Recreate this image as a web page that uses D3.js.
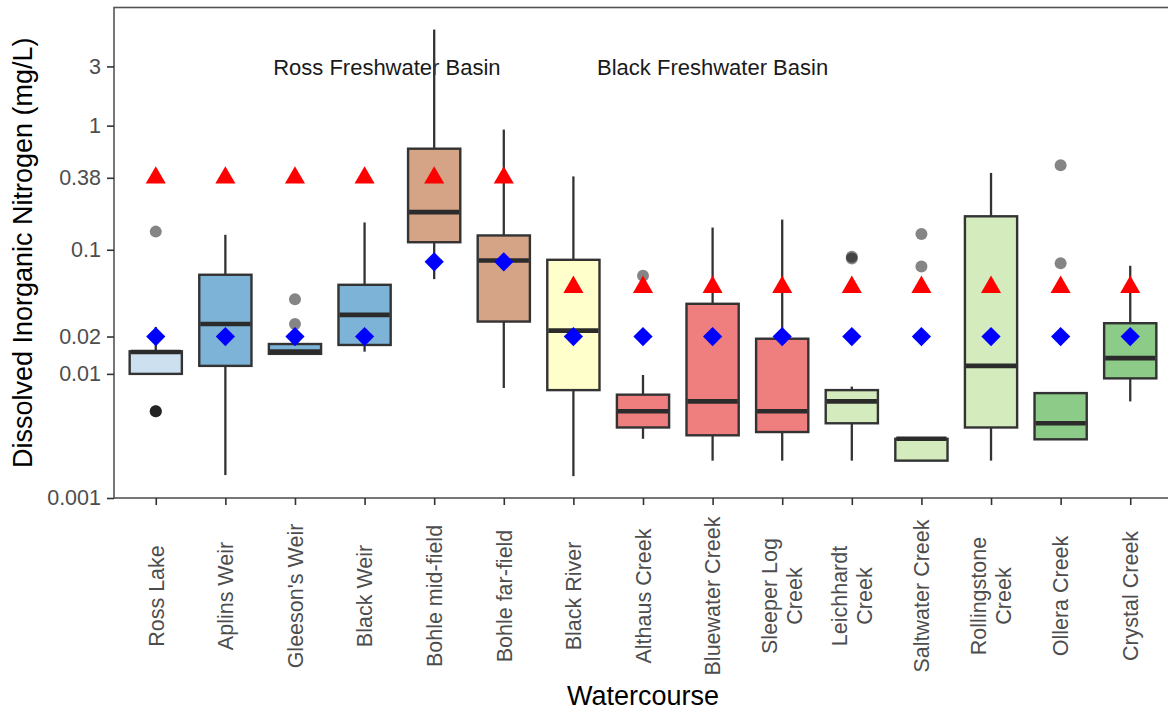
<!DOCTYPE html>
<html>
<head>
<meta charset="utf-8">
<script src="https://cdn.jsdelivr.net/npm/d3@7"></script>
<style>
  html, body { margin: 0; padding: 0; background: #ffffff; }
  svg { display: block; }
  text { font-family: "Liberation Sans", Arial, Helvetica, sans-serif; }
</style>
</head>
<body>
<svg id="chart" width="1168" height="711"></svg>
<script>
// Watercourses (two-line names use \n)
const categories = [
  "Ross Lake", "Aplins Weir", "Gleeson's Weir", "Black Weir", "Bohle mid-field",
  "Bohle far-field", "Black River", "Althaus Creek", "Bluewater Creek", "Sleeper Log\nCreek",
  "Leichhardt\nCreek", "Saltwater Creek", "Rollingstone\nCreek", "Ollera Creek", "Crystal Creek"
];

// Box statistics (mg/L)
const whiskerLow  = [0.0100, 0.00153, 0.0145, 0.0151, 0.058, 0.0077, 0.0015, 0.0030, 0.0020, 0.0020, 0.0020, 0.0020, 0.0020, 0.00297, 0.0060];
const q1Values    = [0.0100, 0.0116, 0.0145, 0.0171, 0.115, 0.0264, 0.0074, 0.0037, 0.0032, 0.0034, 0.0040, 0.0020, 0.0037, 0.00297, 0.0092];
const medianValues= [0.0150, 0.0252, 0.0151, 0.0299, 0.201, 0.0820, 0.0223, 0.0050, 0.0060, 0.0050, 0.0060, 0.0030, 0.0116, 0.0040, 0.0134];
const q3Values    = [0.0152, 0.0629, 0.0174, 0.0522, 0.652, 0.1304, 0.0830, 0.0068, 0.0367, 0.0192, 0.0074, 0.0030, 0.186, 0.0070, 0.0256];
const whiskerHigh = [0.0239, 0.132, 0.0174, 0.166, 5.94, 0.929, 0.390, 0.0098, 0.151, 0.175, 0.0079, 0.0030, 0.416, 0.0070, 0.0743];
const outliers = [
  [0.14, 0.005, 0.005, 0.005], [], [0.040, 0.0252], [], [],
  [], [], [0.0617], [], [],
  [0.088, 0.085], [0.134, 0.0733], [], [0.479, 0.078], []
];

// Guideline values drawn as triangles and diamonds (mg/L)
const triangleValues = [0.38, 0.38, 0.38, 0.38, 0.38, 0.38, 0.05, 0.05, 0.05, 0.05, 0.05, 0.05, 0.05, 0.05, 0.05];
const diamondValues  = [0.02, 0.02, 0.02, 0.02, 0.08, 0.08, 0.02, 0.02, 0.02, 0.02, 0.02, 0.02, 0.02, 0.02, 0.02];

// Box fills
const boxFills = [
  "#cce0f0", "#7eb3d8", "#7eb3d8", "#7eb3d8", "#d5a386",
  "#d5a386", "#ffffcc", "#ef7f7f", "#ef7f7f", "#ef7f7f",
  "#d4ecbd", "#d4ecbd", "#d4ecbd", "#8ccb88", "#8ccb88"
];

// Axis ticks
const yTickValues = [0.001, 0.01, 0.02, 0.1, 0.38, 1, 3];
const yTickLabels = ["0.001", "0.01", "0.02", "0.1", "0.38", "1", "3"];

// Basin annotations
const basinLabels = ["Ross Freshwater Basin", "Black Freshwater Basin"];
const basinAnchors = [3.32, 8.0];   // category-index positions of label centres
const basinLevel = 2.58;             // y value at the label baseline

const svg = d3.select("#chart");
const panel = { left: 114, right: 1172, top: 7.5, bottom: 498 };

const x = d3.scalePoint().domain(categories).range([panel.left, panel.right]).padding(0.6);
const step = x.step();
const boxW = step * 0.75;
const y = d3.scaleLog().domain([0.001, 8.95]).range([panel.bottom, panel.top]);

const xIdx = d3.scaleLinear().domain([0, categories.length - 1]).range([x(categories[0]), x(categories[categories.length - 1])]);

const data = categories.map((c, i) => ({
  name: c, lo: whiskerLow[i], q1: q1Values[i], med: medianValues[i], q3: q3Values[i], hi: whiskerHigh[i],
  out: outliers[i], tri: triangleValues[i], dia: diamondValues[i], fill: boxFills[i]
}));

// Annotations (behind the boxes)
svg.append("g").selectAll("text").data(basinLabels).join("text")
  .attr("x", (d, i) => xIdx(basinAnchors[i]))
  .attr("y", y(basinLevel))
  .attr("text-anchor", "middle")
  .attr("font-size", 22)
  .attr("fill", "#1a1a1a")
  .text(d => d);

// Boxplots
const g = svg.append("g").selectAll("g").data(data).join("g")
  .attr("transform", d => `translate(${x(d.name)},0)`);

g.append("line").attr("x1", 0).attr("x2", 0)
  .attr("y1", d => y(d.hi)).attr("y2", d => y(d.q3))
  .attr("stroke", "#333").attr("stroke-width", 2.3);
g.append("line").attr("x1", 0).attr("x2", 0)
  .attr("y1", d => y(d.q1)).attr("y2", d => y(d.lo))
  .attr("stroke", "#333").attr("stroke-width", 2.3);
g.append("rect")
  .attr("x", -boxW / 2).attr("width", boxW)
  .attr("y", d => y(d.q3)).attr("height", d => Math.max(0, y(d.q1) - y(d.q3)))
  .attr("fill", d => d.fill).attr("stroke", "#333").attr("stroke-width", 2.4);
g.append("line")
  .attr("x1", -boxW / 2 + 1).attr("x2", boxW / 2 - 1)
  .attr("y1", d => y(d.med)).attr("y2", d => y(d.med))
  .attr("stroke", "#2b2b2b").attr("stroke-width", 4.6);
g.selectAll("circle").data(d => d.out).join("circle")
  .attr("cx", 0).attr("cy", v => y(v)).attr("r", 6)
  .attr("fill", "#000").attr("fill-opacity", 0.48);

// Guideline markers
const tri = d3.symbol().type(d3.symbolTriangle).size(175);
svg.append("g").selectAll("path").data(data).join("path")
  .attr("d", tri)
  .attr("transform", d => `translate(${x(d.name)},${y(d.tri)})`)
  .attr("fill", "#ff0000");
const dia = d3.symbol().type(d3.symbolSquare).size(185);
svg.append("g").selectAll("path").data(data).join("path")
  .attr("d", dia)
  .attr("transform", d => `translate(${x(d.name)},${y(d.dia)}) rotate(45)`)
  .attr("fill", "#0000ff");

// Panel border (top/left/bottom visible)
svg.append("rect")
  .attr("x", panel.left).attr("y", panel.top)
  .attr("width", panel.right - panel.left).attr("height", panel.bottom - panel.top)
  .attr("fill", "none").attr("stroke", "#555").attr("stroke-width", 1.6);

// Y axis
const yAxis = d3.axisLeft(y).tickValues(yTickValues).tickFormat((d, i) => yTickLabels[i]).tickSize(7).tickPadding(6);
const ya = svg.append("g").attr("transform", `translate(${panel.left},0)`).call(yAxis);
ya.select(".domain").remove();
ya.selectAll(".tick line").attr("stroke", "#333").attr("stroke-width", 1.6);
ya.selectAll(".tick text").attr("font-size", 21.5).attr("fill", "#4d4d4d")
  .attr("font-family", "Liberation Sans, Arial, sans-serif");

// X axis
const xAxis = d3.axisBottom(x).tickSize(7).tickFormat("");
const xa = svg.append("g").attr("transform", `translate(0,${panel.bottom})`).call(xAxis);
xa.select(".domain").remove();
xa.selectAll(".tick line").attr("stroke", "#333").attr("stroke-width", 1.6);

// Rotated category labels, centred vertically
const labelCentre = 596;
const lineGap = 25;
const xl = svg.append("g").selectAll("g").data(categories).join("g")
  .attr("transform", d => `translate(${x(d)},${labelCentre}) rotate(-90)`);
xl.each(function (d) {
  const lines = d.split("\n");
  const sel = d3.select(this);
  lines.forEach((ln, k) => {
    sel.append("text")
      .attr("x", 0)
      .attr("y", (k - (lines.length - 1) / 2) * lineGap)
      .attr("dy", "0.36em")
      .attr("text-anchor", "middle")
      .attr("font-size", 21.5)
      .attr("fill", "#4d4d4d")
      .text(ln);
  });
});

// Axis titles
svg.append("text")
  .attr("transform", `translate(32,${(panel.top + panel.bottom) / 2}) rotate(-90)`)
  .attr("text-anchor", "middle")
  .attr("font-size", 27)
  .attr("fill", "#000")
  .text("Dissolved Inorganic Nitrogen (mg/L)");
svg.append("text")
  .attr("x", (panel.left + panel.right) / 2)
  .attr("y", 705)
  .attr("text-anchor", "middle")
  .attr("font-size", 27)
  .attr("fill", "#000")
  .text("Watercourse");
</script>
</body>
</html>
